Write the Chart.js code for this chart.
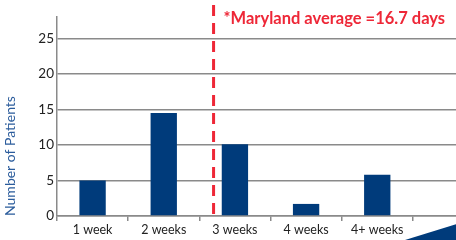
<!DOCTYPE html>
<html>
<head>
<meta charset="utf-8">
<script src="https://cdn.jsdelivr.net/npm/chart.js@4"></script>
<style>
  html, body { margin: 0; padding: 0; background: #fff; overflow: hidden; }
  #wrap { width: 490px; height: 240px; }
</style>
</head>
<body>
<div id="wrap"><canvas id="stayChart" width="490" height="240"></canvas></div>
<script>
// categories and values
const categories = ['1 week', '2 weeks', '3 weeks', '4 weeks', '4+ weeks', ''];
const patients = [5, 14.5, 10.1, 1.7, 5.8, null];
const yTicks = [0, 5, 10, 15, 20, 25];
// Maryland average marker, in category-index units
const averageLabel = '*Maryland average =16.7 days';
const averagePos = 1.7;

const navy = '#003b7b';
const red = '#ee2737';

// dashed average line + note text
const averagePlugin = {
  id: 'averageLine',
  afterDatasetsDraw(chart) {
    const { ctx, scales: { x, y } } = chart;
    const px = x.getPixelForValue(averagePos);
    ctx.save();
    ctx.strokeStyle = red;
    ctx.lineWidth = 3;
    ctx.setLineDash([11, 7]);
    ctx.beginPath();
    ctx.moveTo(px, 5);
    ctx.lineTo(px, y.bottom);
    ctx.stroke();
    ctx.setLineDash([]);
    ctx.fillStyle = red;
    ctx.font = 'bold 16.5px Lato, "Open Sans", sans-serif';
    ctx.textBaseline = 'middle';
    ctx.fillText(averageLabel, px + 10, 19);
    // corner decoration
    ctx.fillStyle = navy;
    ctx.beginPath();
    ctx.moveTo(405, 240);
    ctx.lineTo(460, 223);
    ctx.lineTo(460, 240);
    ctx.closePath();
    ctx.fill();
    ctx.restore();
  }
};

const ctx = document.getElementById('stayChart').getContext('2d');
new Chart(ctx, {
  type: 'bar',
  data: {
    labels: categories,
    datasets: [{
      data: patients,
      backgroundColor: navy,
      categoryPercentage: 1,
      barPercentage: 0.37
    }]
  },
  options: {
    responsive: false,
    animation: false,
    layout: { padding: { top: 17, right: 6, left: 0, bottom: 0 } },
    plugins: {
      legend: { display: false },
      tooltip: { enabled: false }
    },
    scales: {
      x: {
        grid: {
          display: true,
          drawOnChartArea: false,
          drawTicks: true,
          tickLength: 5,
          color: '#8a8a8a',
          lineWidth: 1.5,
          offset: true
        },
        border: { color: '#8a8a8a', width: 1.5 },
        ticks: {
          color: '#222',
          font: { family: 'Lato, "Open Sans", sans-serif', size: 12.5 },
          padding: 1,
          maxRotation: 0
        },
        afterFit(scale) { scale.height = 24; }
      },
      y: {
        min: 0,
        max: 28,
        afterBuildTicks(scale) {
          scale.ticks = yTicks.map(v => ({ value: v }));
        },
        grid: {
          color: '#8a8a8a',
          lineWidth: 1.5,
          drawTicks: false
        },
        border: { color: '#8a8a8a', width: 1.5 },
        ticks: {
          color: '#222',
          font: { family: 'Lato, "Open Sans", sans-serif', size: 13.5 },
          padding: 3
        },
        title: {
          display: true,
          text: 'Number of Patients',
          align: 'start',
          color: '#2b5c9c',
          font: { family: 'Lato, "Open Sans", sans-serif', size: 14 },
          padding: { top: 2, bottom: 0 }
        },
        afterFit(scale) { scale.width = 57; }
      }
    }
  },
  plugins: [averagePlugin]
});
</script>
</body>
</html>
